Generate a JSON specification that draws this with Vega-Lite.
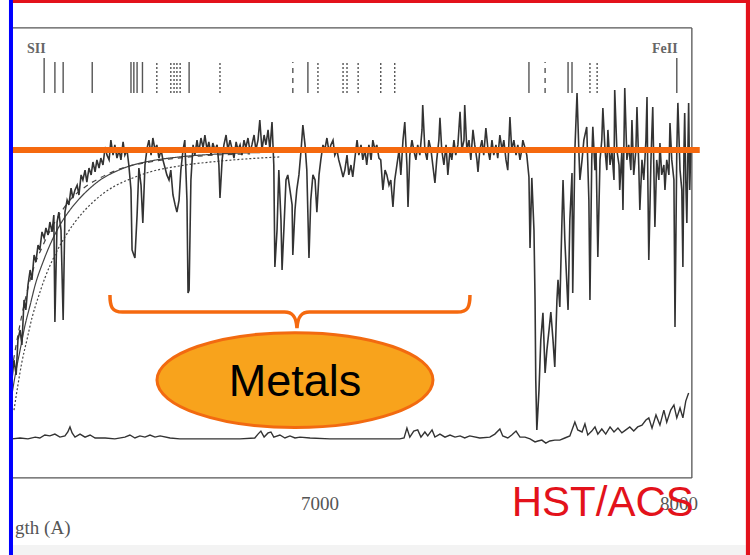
{
"$schema": "https://vega.github.io/schema/vega-lite/v6.json",
"width": 750, "height": 555, "autosize": {"type": "none"}, "padding": 0,
"background": "#ffffff",
"config": {"view": {"stroke": null}},
"datasets": {
"spec": [
{"w":6141,"f":23.3},{"w":6147,"f":30},{"w":6153,"f":25},{"w":6158,"f":36.7},{"w":6164,"f":40},{"w":6169,"f":35},{"w":6175,"f":50},{"w":6180,"f":46.7},{"w":6186,"f":55},{"w":6192,"f":60},{"w":6197,"f":56.7},{"w":6203,"f":65},{"w":6208,"f":62.7},{"w":6214,"f":68.3},{"w":6219,"f":66.7},{"w":6225,"f":72.7},{"w":6231,"f":70.7},{"w":6236,"f":74},{"w":6242,"f":71.7},{"w":6247,"f":76},{"w":6253,"f":72.7},{"w":6258,"f":78.3},{"w":6261,"f":42.7},{"w":6267,"f":76},{"w":6272,"f":79.3},{"w":6278,"f":73.3},{"w":6284,"f":43.3},{"w":6289,"f":79.3},{"w":6295,"f":83.3},{"w":6300,"f":81.7},{"w":6306,"f":87.3},{"w":6311,"f":84},{"w":6317,"f":86.7},{"w":6323,"f":88.3},{"w":6328,"f":85},{"w":6334,"f":91.7},{"w":6339,"f":90},{"w":6345,"f":93.3},{"w":6350,"f":89.3},{"w":6356,"f":94},{"w":6362,"f":91.7},{"w":6367,"f":96},{"w":6373,"f":92.7},{"w":6378,"f":96.7},{"w":6384,"f":94},{"w":6389,"f":97.3},{"w":6395,"f":95},{"w":6401,"f":101},{"w":6406,"f":98.3},{"w":6412,"f":96.7},{"w":6417,"f":103.3},{"w":6423,"f":98.3},{"w":6428,"f":101.7},{"w":6434,"f":97.3},{"w":6440,"f":100},{"w":6445,"f":96.7},{"w":6451,"f":102.7},{"w":6456,"f":98.3},{"w":6462,"f":100},{"w":6467,"f":95},{"w":6473,"f":86.7},{"w":6476,"f":66.7},{"w":6481,"f":65},{"w":6484,"f":64},{"w":6490,"f":78.3},{"w":6495,"f":94},{"w":6501,"f":88.3},{"w":6506,"f":75.7},{"w":6512,"f":95},{"w":6518,"f":100.7},{"w":6523,"f":103.3},{"w":6529,"f":98.3},{"w":6534,"f":104},{"w":6540,"f":100},{"w":6545,"f":101.7},{"w":6551,"f":97.3},{"w":6557,"f":100},{"w":6562,"f":96.7},{"w":6568,"f":94},{"w":6573,"f":91.7},{"w":6579,"f":90},{"w":6584,"f":93.3},{"w":6590,"f":85},{"w":6596,"f":81.7},{"w":6601,"f":79.3},{"w":6607,"f":83.3},{"w":6612,"f":93.3},{"w":6618,"f":100},{"w":6623,"f":103.3},{"w":6629,"f":83.3},{"w":6632,"f":52.3},{"w":6635,"f":53.3},{"w":6640,"f":90},{"w":6646,"f":101.7},{"w":6651,"f":98.3},{"w":6657,"f":103.3},{"w":6662,"f":99.3},{"w":6668,"f":104},{"w":6674,"f":100.7},{"w":6679,"f":105},{"w":6685,"f":100},{"w":6690,"f":102.7},{"w":6696,"f":98.3},{"w":6701,"f":102.3},{"w":6707,"f":100},{"w":6713,"f":101.7},{"w":6718,"f":95},{"w":6721,"f":84},{"w":6727,"f":96.7},{"w":6732,"f":101.7},{"w":6738,"f":105},{"w":6743,"f":100},{"w":6749,"f":103.3},{"w":6754,"f":100.7},{"w":6760,"f":97.3},{"w":6766,"f":102.7},{"w":6771,"f":100},{"w":6777,"f":101.7},{"w":6782,"f":98.3},{"w":6788,"f":103.3},{"w":6793,"f":100.7},{"w":6799,"f":104},{"w":6805,"f":99.3},{"w":6810,"f":101.7},{"w":6816,"f":105},{"w":6821,"f":100},{"w":6827,"f":103.3},{"w":6832,"f":110},{"w":6838,"f":100},{"w":6844,"f":105},{"w":6849,"f":101.7},{"w":6855,"f":106.7},{"w":6860,"f":100},{"w":6866,"f":109.3},{"w":6871,"f":95},{"w":6874,"f":61},{"w":6880,"f":73.3},{"w":6885,"f":93.3},{"w":6891,"f":76.7},{"w":6894,"f":60},{"w":6899,"f":73.3},{"w":6905,"f":90},{"w":6910,"f":91.7},{"w":6916,"f":86.7},{"w":6922,"f":81.7},{"w":6924,"f":65},{"w":6930,"f":80},{"w":6935,"f":86.7},{"w":6941,"f":91.7},{"w":6947,"f":100},{"w":6952,"f":108.3},{"w":6958,"f":101.7},{"w":6963,"f":93.3},{"w":6969,"f":64},{"w":6974,"f":83.3},{"w":6980,"f":91.7},{"w":6986,"f":90},{"w":6991,"f":79.3},{"w":6997,"f":91.7},{"w":7002,"f":96.7},{"w":7008,"f":101.7},{"w":7013,"f":100},{"w":7019,"f":104},{"w":7025,"f":99.3},{"w":7030,"f":101.7},{"w":7036,"f":103.3},{"w":7041,"f":98.3},{"w":7047,"f":100},{"w":7052,"f":96.7},{"w":7058,"f":94},{"w":7064,"f":91},{"w":7069,"f":93.3},{"w":7075,"f":98.3},{"w":7080,"f":91.7},{"w":7086,"f":95},{"w":7091,"f":91},{"w":7097,"f":97.3},{"w":7103,"f":103.3},{"w":7108,"f":98.3},{"w":7114,"f":101.7},{"w":7119,"f":96.7},{"w":7125,"f":100},{"w":7130,"f":95},{"w":7136,"f":101.7},{"w":7142,"f":96.7},{"w":7147,"f":103.3},{"w":7153,"f":100},{"w":7158,"f":101.7},{"w":7164,"f":97.3},{"w":7169,"f":96.7},{"w":7175,"f":86.7},{"w":7181,"f":93.3},{"w":7186,"f":91.7},{"w":7192,"f":88.3},{"w":7197,"f":90},{"w":7203,"f":81},{"w":7208,"f":90},{"w":7214,"f":95},{"w":7220,"f":100},{"w":7225,"f":91.7},{"w":7231,"f":103.3},{"w":7236,"f":109.3},{"w":7242,"f":95},{"w":7245,"f":81},{"w":7250,"f":98.3},{"w":7256,"f":103.3},{"w":7261,"f":100},{"w":7267,"f":96.7},{"w":7272,"f":101.7},{"w":7278,"f":98.3},{"w":7284,"f":106.7},{"w":7286,"f":115},{"w":7292,"f":100},{"w":7298,"f":96.7},{"w":7303,"f":103.3},{"w":7309,"f":100},{"w":7314,"f":95},{"w":7320,"f":89},{"w":7325,"f":96.7},{"w":7331,"f":103.3},{"w":7334,"f":110.7},{"w":7339,"f":100},{"w":7345,"f":95},{"w":7351,"f":101.7},{"w":7356,"f":91.7},{"w":7362,"f":100},{"w":7367,"f":96.7},{"w":7373,"f":103.3},{"w":7378,"f":98.3},{"w":7384,"f":101.7},{"w":7390,"f":112.7},{"w":7395,"f":100},{"w":7401,"f":103.3},{"w":7403,"f":115},{"w":7409,"f":100},{"w":7415,"f":103.3},{"w":7420,"f":96.7},{"w":7426,"f":106.7},{"w":7431,"f":101.7},{"w":7437,"f":96.7},{"w":7440,"f":92.7},{"w":7445,"f":100},{"w":7451,"f":103.3},{"w":7456,"f":98.3},{"w":7462,"f":107.3},{"w":7468,"f":100},{"w":7473,"f":96.7},{"w":7479,"f":103.3},{"w":7484,"f":98.3},{"w":7490,"f":101.7},{"w":7495,"f":97.3},{"w":7501,"f":105},{"w":7507,"f":100},{"w":7512,"f":103.3},{"w":7518,"f":96.7},{"w":7523,"f":93.3},{"w":7529,"f":111},{"w":7534,"f":100},{"w":7540,"f":103.3},{"w":7546,"f":98.3},{"w":7551,"f":101.7},{"w":7557,"f":96.7},{"w":7562,"f":100},{"w":7565,"f":103.3},{"w":7571,"f":100.7},{"w":7576,"f":98.3},{"w":7582,"f":91},{"w":7585,"f":67.3},{"w":7590,"f":90.7},{"w":7596,"f":73.3},{"w":7599,"f":50},{"w":7601,"f":23.3},{"w":7604,"f":6.7},{"w":7610,"f":20},{"w":7615,"f":36.7},{"w":7621,"f":45.7},{"w":7627,"f":25.7},{"w":7632,"f":33.3},{"w":7638,"f":40},{"w":7643,"f":46},{"w":7649,"f":36.7},{"w":7654,"f":27.7},{"w":7660,"f":50},{"w":7663,"f":56.7},{"w":7668,"f":47.7},{"w":7674,"f":76.7},{"w":7677,"f":90},{"w":7682,"f":70},{"w":7691,"f":46.7},{"w":7696,"f":76.7},{"w":7702,"f":92.3},{"w":7704,"f":52.3},{"w":7710,"f":100},{"w":7716,"f":119},{"w":7721,"f":100},{"w":7724,"f":90},{"w":7730,"f":96.7},{"w":7735,"f":103.3},{"w":7743,"f":107.7},{"w":7749,"f":83.3},{"w":7752,"f":50},{"w":7757,"f":96.7},{"w":7760,"f":107.7},{"w":7766,"f":93.3},{"w":7769,"f":100},{"w":7774,"f":64.3},{"w":7780,"f":96.7},{"w":7785,"f":103.3},{"w":7788,"f":114},{"w":7794,"f":100},{"w":7799,"f":93.3},{"w":7802,"f":106.7},{"w":7808,"f":95},{"w":7813,"f":100},{"w":7819,"f":90},{"w":7821,"f":120},{"w":7827,"f":100},{"w":7833,"f":95},{"w":7835,"f":86.7},{"w":7841,"f":100},{"w":7844,"f":80},{"w":7849,"f":120.7},{"w":7855,"f":96.7},{"w":7860,"f":101.7},{"w":7866,"f":93.3},{"w":7869,"f":110},{"w":7874,"f":91.7},{"w":7880,"f":100},{"w":7883,"f":114.3},{"w":7888,"f":95},{"w":7891,"f":80},{"w":7897,"f":96.7},{"w":7902,"f":90},{"w":7908,"f":103.3},{"w":7911,"f":117.7},{"w":7913,"f":93.3},{"w":7916,"f":63.3},{"w":7922,"f":96.7},{"w":7927,"f":114.3},{"w":7933,"f":74.3},{"w":7938,"f":96.7},{"w":7944,"f":90},{"w":7947,"f":102.3},{"w":7952,"f":91.7},{"w":7958,"f":95},{"w":7961,"f":86.7},{"w":7966,"f":96.7},{"w":7972,"f":91.7},{"w":7975,"f":109},{"w":7980,"f":96.7},{"w":7986,"f":90},{"w":7989,"f":41},{"w":7994,"f":100},{"w":7997,"f":115.7},{"w":8003,"f":93.3},{"w":8008,"f":86.7},{"w":8011,"f":61},{"w":8014,"f":100},{"w":8016,"f":112.3},{"w":8019,"f":90},{"w":8022,"f":75.7},{"w":8025,"f":100},{"w":8027,"f":115.7},{"w":8030,"f":86.7},{"w":8033,"f":100}
],
"noise": [
{"w":6141,"f":3.7},{"w":6164,"f":4},{"w":6186,"f":3.7},{"w":6206,"f":4.3},{"w":6219,"f":4},{"w":6233,"f":5},{"w":6247,"f":4.7},{"w":6261,"f":5.3},{"w":6275,"f":4.3},{"w":6289,"f":4.7},{"w":6297,"f":6},{"w":6303,"f":7.7},{"w":6309,"f":5.7},{"w":6317,"f":4.3},{"w":6331,"f":5.3},{"w":6345,"f":4.3},{"w":6359,"f":5},{"w":6373,"f":4},{"w":6401,"f":4},{"w":6428,"f":3.7},{"w":6456,"f":4.3},{"w":6470,"f":5},{"w":6484,"f":4},{"w":6498,"f":4.7},{"w":6512,"f":4.3},{"w":6526,"f":5},{"w":6540,"f":4.3},{"w":6554,"f":4.7},{"w":6582,"f":4},{"w":6609,"f":3.7},{"w":6665,"f":3.7},{"w":6721,"f":3.7},{"w":6777,"f":3.7},{"w":6818,"f":4},{"w":6827,"f":5.3},{"w":6835,"f":6.3},{"w":6844,"f":4.3},{"w":6855,"f":5.7},{"w":6863,"f":6},{"w":6871,"f":4.3},{"w":6888,"f":5},{"w":6902,"f":4},{"w":6916,"f":4.7},{"w":6930,"f":4},{"w":6944,"f":4.3},{"w":6972,"f":4},{"w":7027,"f":3.7},{"w":7083,"f":3.7},{"w":7167,"f":3.7},{"w":7222,"f":3.7},{"w":7234,"f":4},{"w":7242,"f":7.3},{"w":7250,"f":4.3},{"w":7261,"f":6.3},{"w":7272,"f":6.7},{"w":7281,"f":4.3},{"w":7292,"f":6},{"w":7300,"f":4.7},{"w":7312,"f":6.7},{"w":7320,"f":4.3},{"w":7334,"f":5.3},{"w":7348,"f":4.3},{"w":7362,"f":5},{"w":7376,"f":4.3},{"w":7390,"f":4.7},{"w":7403,"f":4},{"w":7417,"f":4.7},{"w":7445,"f":4},{"w":7473,"f":4.3},{"w":7487,"f":5.3},{"w":7501,"f":7},{"w":7509,"f":4.7},{"w":7523,"f":4},{"w":7534,"f":5},{"w":7546,"f":6.3},{"w":7557,"f":4.3},{"w":7571,"f":4.3},{"w":7585,"f":3.7},{"w":7599,"f":2.7},{"w":7607,"f":3},{"w":7618,"f":3.3},{"w":7629,"f":2.3},{"w":7640,"f":3},{"w":7654,"f":3.3},{"w":7668,"f":3.3},{"w":7682,"f":4},{"w":7696,"f":4.7},{"w":7710,"f":9.3},{"w":7718,"f":6.7},{"w":7730,"f":6},{"w":7738,"f":8.7},{"w":7746,"f":5},{"w":7757,"f":6.3},{"w":7766,"f":7.7},{"w":7774,"f":5.3},{"w":7785,"f":7},{"w":7796,"f":5.3},{"w":7808,"f":7.7},{"w":7819,"f":6},{"w":7830,"f":7.3},{"w":7841,"f":5.7},{"w":7852,"f":6.7},{"w":7863,"f":7.7},{"w":7874,"f":6.3},{"w":7885,"f":7.7},{"w":7897,"f":8.3},{"w":7908,"f":10},{"w":7916,"f":10.7},{"w":7925,"f":7.3},{"w":7936,"f":11.7},{"w":7947,"f":8.3},{"w":7958,"f":13.3},{"w":7966,"f":9.3},{"w":7977,"f":13.3},{"w":7986,"f":15},{"w":7994,"f":10.7},{"w":8003,"f":14},{"w":8011,"f":10.7},{"w":8019,"f":16.3},{"w":8025,"f":18.3},{"w":8027,"f":19}
],
"models": [
{"m":"A","w":6141,"f":18.3},{"m":"A","w":6153,"f":26.7},{"m":"A","w":6164,"f":33.3},{"m":"A","w":6178,"f":41.7},{"m":"A","w":6192,"f":48.3},{"m":"A","w":6206,"f":55},{"m":"A","w":6228,"f":62.7},{"m":"A","w":6247,"f":68.3},{"m":"A","w":6275,"f":75},{"m":"A","w":6303,"f":80},{"m":"A","w":6331,"f":84},{"m":"A","w":6359,"f":87.3},{"m":"A","w":6387,"f":90},{"m":"A","w":6428,"f":92.7},{"m":"A","w":6470,"f":94.7},{"m":"A","w":6526,"f":96.3},{"m":"A","w":6609,"f":97.7},{"m":"A","w":6721,"f":98.7},{"m":"A","w":6888,"f":99.3},{"m":"A","w":7055,"f":99.7},
{"m":"B","w":6147,"f":13.3},{"m":"B","w":6158,"f":21.7},{"m":"B","w":6169,"f":29.3},{"m":"B","w":6183,"f":36.7},{"m":"B","w":6197,"f":44},{"m":"B","w":6214,"f":50.7},{"m":"B","w":6233,"f":57.3},{"m":"B","w":6261,"f":65},{"m":"B","w":6289,"f":71},{"m":"B","w":6317,"f":76},{"m":"B","w":6345,"f":80},{"m":"B","w":6387,"f":84.7},{"m":"B","w":6428,"f":88},{"m":"B","w":6470,"f":90.3},{"m":"B","w":6526,"f":92.7},{"m":"B","w":6609,"f":94.7},{"m":"B","w":6721,"f":96.3},{"m":"B","w":6888,"f":97.7},
{"m":"C","w":6141,"f":26.7},{"m":"C","w":6158,"f":38.3},{"m":"C","w":6178,"f":50},{"m":"C","w":6200,"f":60},{"m":"C","w":6228,"f":68.3},{"m":"C","w":6261,"f":76},{"m":"C","w":6303,"f":83.3},{"m":"C","w":6345,"f":87.7},{"m":"C","w":6387,"f":90.7},{"m":"C","w":6442,"f":93.7},{"m":"C","w":6526,"f":96},{"m":"C","w":6637,"f":97.7},{"m":"C","w":6805,"f":98.7}
],
"lineids": [
{"w":6231,"f":119,"f2":130.7,"k":"s"},{"w":6261,"f":119,"f2":129.3,"k":"s"},{"w":6284,"f":119,"f2":129.3,"k":"s"},{"w":6365,"f":119,"f2":129.3,"k":"s"},{"w":6473,"f":119,"f2":129.3,"k":"s"},{"w":6481,"f":119,"f2":129.3,"k":"s"},{"w":6490,"f":119,"f2":129.3,"k":"s"},{"w":6505,"f":119,"f2":129.3,"k":"s"},{"w":6545,"f":119,"f2":129.3,"k":"o"},{"w":6584,"f":119,"f2":129.3,"k":"o"},{"w":6593,"f":119,"f2":129.3,"k":"o"},{"w":6601,"f":119,"f2":129.3,"k":"o"},{"w":6610,"f":119,"f2":129.3,"k":"o"},{"w":6635,"f":119,"f2":129.3,"k":"s"},{"w":6721,"f":119,"f2":129.3,"k":"o"},{"w":6924,"f":119,"f2":129.3,"k":"d"},{"w":6966,"f":119,"f2":129.3,"k":"s"},{"w":6994,"f":119,"f2":129.3,"k":"o"},{"w":7064,"f":119,"f2":129.3,"k":"o"},{"w":7075,"f":119,"f2":129.3,"k":"o"},{"w":7106,"f":119,"f2":129.3,"k":"o"},{"w":7169,"f":119,"f2":129.3,"k":"o"},{"w":7208,"f":119,"f2":129.3,"k":"o"},{"w":7582,"f":119,"f2":129.3,"k":"s"},{"w":7627,"f":119,"f2":129.3,"k":"d"},{"w":7691,"f":119,"f2":129.3,"k":"s"},{"w":7702,"f":119,"f2":129.3,"k":"s"},{"w":7752,"f":119,"f2":129.3,"k":"o"},{"w":7772,"f":119,"f2":129.3,"k":"o"},{"w":7994,"f":119,"f2":130.7,"k":"s"}
],
"ticks": [
{"w":6200,"k":"n"},{"w":6300,"k":"n"},{"w":6400,"k":"n"},{"w":6500,"k":"n"},{"w":6600,"k":"n"},{"w":6700,"k":"n"},{"w":6800,"k":"n"},{"w":6900,"k":"n"},{"w":7000,"k":"M"},{"w":7100,"k":"n"},{"w":7200,"k":"n"},{"w":7300,"k":"n"},{"w":7400,"k":"n"},{"w":7500,"k":"n"},{"w":7600,"k":"n"},{"w":7700,"k":"n"},{"w":7800,"k":"n"},{"w":7900,"k":"n"},{"w":8000,"k":"M"}
],
"frame": [
{"w":6144,"w2":8036,"f":140.7,"f2":140.7},{"w":6144,"w2":8036,"f":-9.3,"f2":-9.3},{"w":8036,"w2":8036,"f":-9.3,"f2":140.7}
]
},
"encoding": {
"x": {"field": "w", "type": "quantitative", "scale": {"domain": [6108, 8198], "nice": false, "zero": false}, "axis": null},
"y": {"field": "f", "type": "quantitative", "scale": {"domain": [-35, 150], "nice": false, "zero": false}, "axis": null}
},
"layer": [
{"data": {"values": [{"w": 6144, "w2": 8186, "f": -35, "f2": -31.7}]}, "mark": {"type": "rect", "fill": "#f3f3f3"}, "encoding": {"x2": {"field": "w2"}, "y2": {"field": "f2"}}},
{"data": {"name": "frame"}, "mark": {"type": "rule", "color": "#555555", "strokeWidth": 1.3}, "encoding": {"x2": {"field": "w2"}, "y2": {"field": "f2"}}},
{"data": {"name": "ticks"}, "mark": {"type": "rule", "color": "#555555", "strokeWidth": 1.2}, "encoding": {"y": {"datum": 140.7}, "y2": {"datum": 139.5}}},
{"data": {"name": "ticks"}, "transform": [{"filter": "datum.k === 'M'"}], "mark": {"type": "rule", "color": "#555555", "strokeWidth": 1.2}, "encoding": {"y": {"datum": 140.7}, "y2": {"datum": 138}}},
{"data": {"name": "ticks"}, "mark": {"type": "rule", "color": "#555555", "strokeWidth": 1.2}, "encoding": {"y": {"datum": -9.3}, "y2": {"datum": -8.2}}},
{"data": {"name": "ticks"}, "transform": [{"filter": "datum.k === 'M'"}], "mark": {"type": "rule", "color": "#555555", "strokeWidth": 1.2}, "encoding": {"y": {"datum": -9.3}, "y2": {"datum": -6.6}}},
{"data": {"name": "lineids"}, "mark": {"type": "rule", "color": "#555555", "strokeWidth": 1.4}, "encoding": {"y2": {"field": "f2"}, "strokeDash": {"field": "k", "type": "nominal", "scale": {"domain": ["s", "o", "d"], "range": [[1, 0], [2, 2], [5, 5]]}, "legend": null}}},
{"data": {"name": "models"}, "mark": {"type": "line", "color": "#444444", "strokeWidth": 1.2, "interpolate": "monotone"}, "encoding": {"detail": {"field": "m"}, "strokeDash": {"field": "m", "type": "nominal", "scale": {"domain": ["A", "B", "C"], "range": [[1, 0], [5, 4], [1, 0]]}, "legend": null}}},
{"data": {"name": "noise"}, "mark": {"type": "line", "color": "#333333", "strokeWidth": 1.4}, "encoding": {}},
{"data": {"name": "spec"}, "mark": {"type": "line", "color": "#333333", "strokeWidth": 1.6}, "encoding": {}},
{"data": {"values": [{"w": 6141, "w2": 8058, "f": 100}]}, "mark": {"type": "rule", "color": "#f5690f", "strokeWidth": 6}, "encoding": {"x2": {"field": "w2"}}},
{"data": {"values": [{"w": 6916, "f": 46}]}, "mark": {"type": "point", "shape": "M -1 -0.094 C -1 -0.03 -0.99 0 -0.93 0 L -0.03 0 C 0.01 0 0.035 0.02 0.039 0.09 C 0.043 0.02 0.068 0 0.108 0 L 0.93 0 C 0.99 0 1 -0.03 1 -0.094", "size": 129600, "filled": false, "stroke": "#f5690f", "strokeWidth": 3.5, "opacity": 1}},
{"data": {"values": [{"w": 6930, "f": 23.3}]}, "mark": {"type": "point", "shape": "M -1 0 C -1 -0.19 -0.552 -0.344 0 -0.344 C 0.552 -0.344 1 -0.19 1 0 C 1 0.19 0.552 0.344 0 0.344 C -0.552 0.344 -1 0.19 -1 0 Z", "size": 76176, "filled": true, "fill": "#f8a31c", "stroke": "#f26a10", "strokeWidth": 3, "opacity": 1}},
{"data": {"values": [{"w": 6930, "f": 18, "t": "Metals"}]}, "mark": {"type": "text", "font": "Liberation Sans", "fontSize": 45, "color": "#000000", "align": "center", "baseline": "alphabetic"}, "encoding": {"text": {"field": "t"}}},
{"data": {"values": [{"w": 7000, "f": -20, "t": "7000"}, {"w": 8000, "f": -20, "t": "8000"}]}, "mark": {"type": "text", "font": "Liberation Serif", "fontSize": 19, "color": "#555555", "align": "center", "baseline": "alphabetic"}, "encoding": {"text": {"field": "t"}}},
{"data": {"values": [{"w": 6150, "f": -28, "t": "gth (A)"}]}, "mark": {"type": "text", "font": "Liberation Serif", "fontSize": 19, "color": "#555555", "align": "left", "baseline": "alphabetic"}, "encoding": {"text": {"field": "t"}}},
{"data": {"values": [{"w": 6183, "f": 132.3, "t": "SII"}, {"w": 7925, "f": 132.3, "t": "FeII"}]}, "mark": {"type": "text", "font": "Liberation Serif", "fontSize": 14, "fontWeight": "bold", "color": "#666666", "align": "left", "baseline": "alphabetic"}, "encoding": {"text": {"field": "t"}}},
{"data": {"values": [{"w": 7534, "f": -22, "t": "HST/ACS"}]}, "mark": {"type": "text", "font": "Liberation Sans", "fontSize": 42, "color": "#e3121b", "align": "left", "baseline": "alphabetic"}, "encoding": {"text": {"field": "t"}}},
{"data": {"values": [{"w": 6133, "w2": 6144.2, "f": -35, "f2": 150}]}, "mark": {"type": "rect", "fill": "#0000ff"}, "encoding": {"x2": {"field": "w2"}, "y2": {"field": "f2"}}},
{"data": {"values": [{"w": 8186.5, "w2": 8198, "f": -35, "f2": 150}, {"w": 6144, "w2": 8198, "f": 149, "f2": 150}]}, "mark": {"type": "rect", "fill": "#e3121b"}, "encoding": {"x2": {"field": "w2"}, "y2": {"field": "f2"}}}
]
}
